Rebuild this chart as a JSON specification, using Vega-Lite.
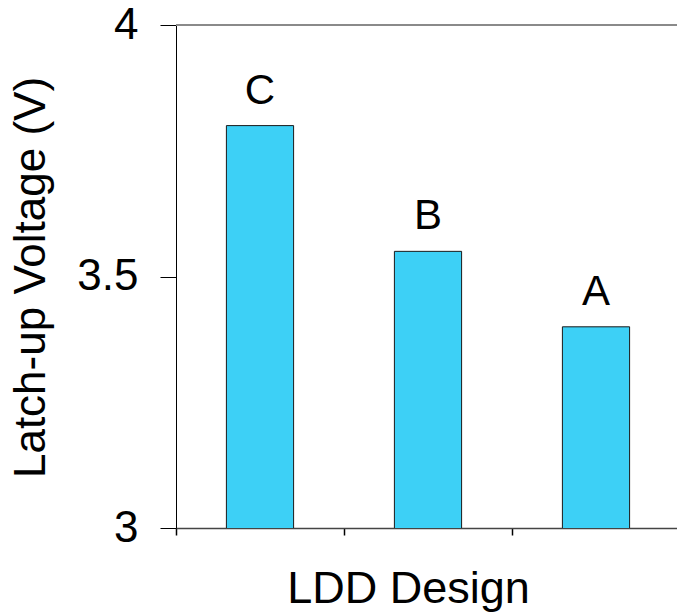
{
  "$schema": "https://vega.github.io/schema/vega-lite/v6.json",
  "autosize": "none",
  "padding": {"left": 176, "top": 25, "right": 0, "bottom": 85},
  "width": 504,
  "height": 503,
  "background": "white",
  "config": {
    "view": {"stroke": null},
    "font": "Liberation Sans",
    "axis": {"grid": false, "labelFont": "Liberation Sans", "titleFont": "Liberation Sans", "titleFontWeight": "normal", "labelColor": "black", "titleColor": "black"}
  },
  "data": {
    "values": [
      {"design": "C", "voltage": 3.8},
      {"design": "B", "voltage": 3.55},
      {"design": "A", "voltage": 3.4}
    ]
  },
  "encoding": {
    "x": {
      "field": "design",
      "type": "nominal",
      "sort": null,
      "scale": {"paddingInner": 0, "paddingOuter": 0},
      "axis": {
        "title": "LDD Design",
        "labels": false,
        "bandPosition": 0,
        "tickSize": 7,
        "tickColor": "black",
        "tickWidth": 1.5,
        "domainColor": "#444",
        "domainWidth": 1.5,
        "titleFontSize": 45,
        "titleX": 232,
        "titleY": 74,
        "titleAlign": "center",
        "titleBaseline": "alphabetic"
      }
    }
  },
  "layer": [
    {
      "mark": {"type": "rule", "color": "#8a8a8a", "strokeWidth": 2},
      "encoding": {"y": {"datum": 4, "type": "quantitative"}, "x": null}
    },
    {
      "mark": {"type": "bar", "clip": true, "width": {"band": 0.4}, "color": "#3dd0f6", "stroke": "#1a1a1a", "strokeWidth": 1},
      "encoding": {
        "y": {
          "field": "voltage",
          "type": "quantitative",
          "scale": {"domain": [3, 4], "zero": false, "nice": false},
          "axis": {
            "title": "Latch-up Voltage (V)",
            "values": [3, 3.5, 4],
            "format": "~g",
            "tickSize": 16,
            "tickColor": "black",
            "domainColor": "black",
            "labelFontSize": 44,
            "labelPadding": 22,
            "titleFontSize": 44,
            "titleAngle": -90,
            "titleX": -132,
            "titleY": 252,
            "titleAlign": "center",
            "titleBaseline": "alphabetic"
          }
        }
      }
    },
    {
      "mark": {"type": "text", "fontSize": 42, "baseline": "alphabetic", "dy": -22, "color": "black"},
      "encoding": {
        "y": {"field": "voltage", "type": "quantitative"},
        "text": {"field": "design"}
      }
    }
  ]
}
